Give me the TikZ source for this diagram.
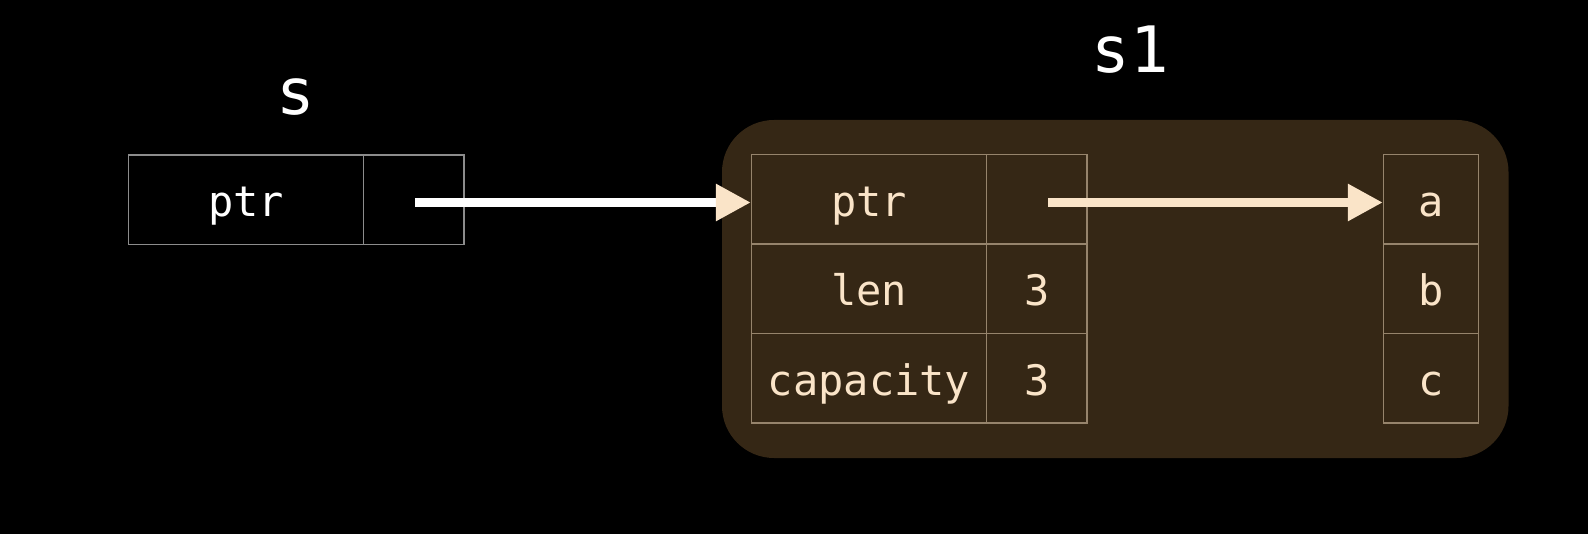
\documentclass[tikz,border=0pt]{standalone}
\usepackage{fontspec}
\setmonofont{DejaVu Sans Mono}
\usetikzlibrary{arrows.meta}
\definecolor{bgbrown}{RGB}{53,39,21}
\definecolor{cream}{RGB}{250,228,200}
\definecolor{sgrid}{RGB}{140,140,140}
\definecolor{bgrid}{RGB}{150,132,108}
\begin{document}
\begin{tikzpicture}[x=1pt,y=-1pt,
  cell/.style={draw, line width=1.3pt, minimum height=89.5pt, inner sep=0pt,
    text height=40pt, text depth=6pt, font=\fontsize{42}{50}\selectfont\ttfamily},
  scell/.style={cell, draw=sgrid, text=white},
  bcell/.style={cell, draw=bgrid, text=cream},
  varlabel/.style={anchor=base, text=white, inner sep=0pt, font=\fontsize{64}{72}\selectfont\ttfamily},
  ptrarrow/.style={line width=9pt, -{Triangle[length=35pt,width=35pt,color=cream]}}
]
\fill[black] (0,0) rectangle (1588,534);
\useasboundingbox (0,0) rectangle (1588,534);

% s1 background frame
\node[fill=bgbrown, rounded corners=52pt, minimum width=786.5pt, minimum height=338pt, inner sep=0pt] (frame) at (1115.25,289) {};

% labels
\node[varlabel] (slabel) at (296,115) {s};
\node[varlabel] (s1label) at (1130,73) {s1};

% s
\node[scell, minimum width=235pt] (sptr) at (246.1,199.7) {ptr};
\node[scell, minimum width=100.3pt] (sval) at (413.75,199.7) {};

% s1
\node[bcell, minimum width=235.2pt] (bptr) at (869.1,199.3) {ptr};
\node[bcell, minimum width=100.3pt] (bptrv) at (1036.85,199.3) {};
\node[bcell, minimum width=235.2pt] (blen) at (869.1,288.9) {len};
\node[bcell, minimum width=100.3pt] (blenv) at (1036.85,288.9) {3};
\node[bcell, minimum width=235.2pt] (bcap) at (869.1,378.4) {capacity};
\node[bcell, minimum width=100.3pt] (bcapv) at (1036.85,378.4) {3};

% heap
\node[bcell, minimum width=95pt] (ha) at (1431,199.3) {a};
\node[bcell, minimum width=95pt] (hb) at (1431,288.9) {b};
\node[bcell, minimum width=95pt] (hc) at (1431,378.4) {c};

% arrows
\coordinate (p1) at (415,202.5);
\coordinate (p2) at (1048,202.5);
\draw[ptrarrow, white] (p1) -- (bptr.west |- p1);
\draw[ptrarrow, cream] (p2) -- (ha.west |- p2);
\end{tikzpicture}
\end{document}
